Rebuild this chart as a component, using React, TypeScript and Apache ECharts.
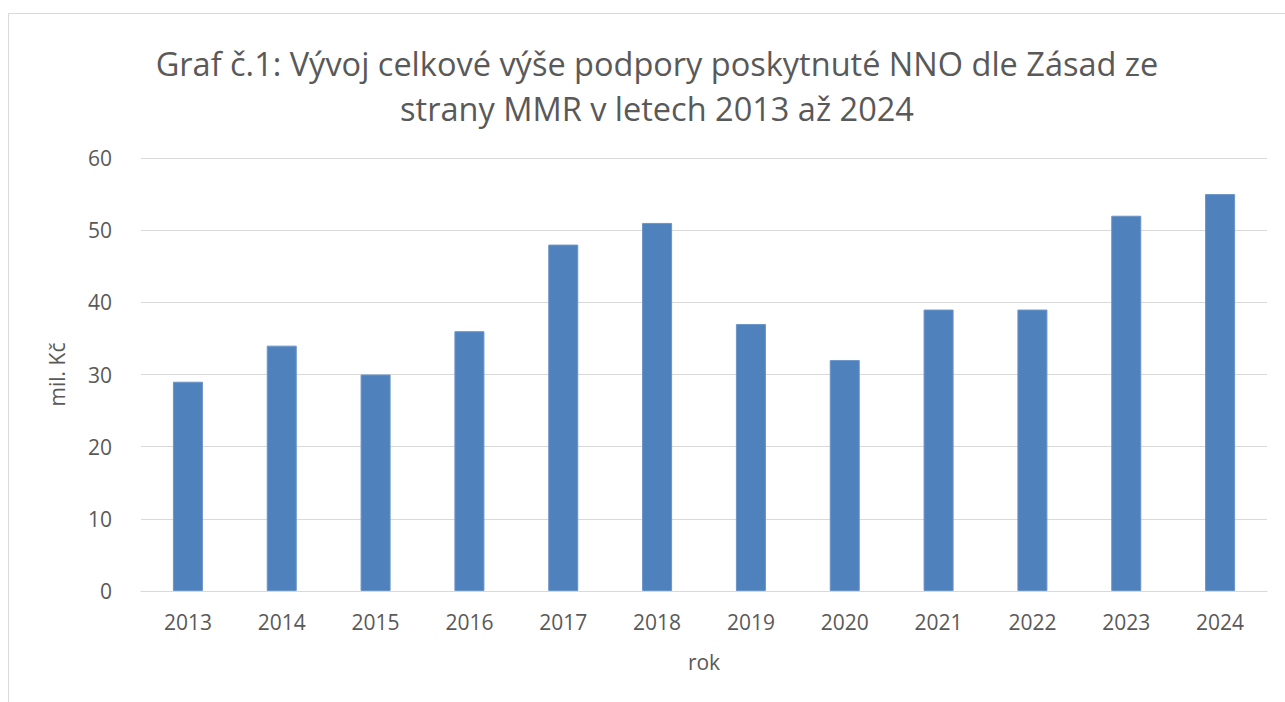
import React, { useEffect, useRef } from "react";
import * as echarts from "echarts";

const years = ["2013", "2014", "2015", "2016", "2017", "2018", "2019", "2020", "2021", "2022", "2023", "2024"];
const values = [29, 34, 30, 36, 48, 51, 37, 32, 39, 39, 52, 55];
const titleText = "Graf č.1: Vývoj celkové výše podpory poskytnuté NNO dle Zásad ze\nstrany MMR v letech 2013 až 2024";
const yAxisName = "mil. Kč";
const xAxisName = "rok";

const FONT = "'Open Sans', 'Noto Sans', sans-serif";
const TEXT = "#595959";

export default function App() {
  const ref = useRef<HTMLDivElement>(null);
  useEffect(() => {
    if (!ref.current) return;
    const chart = echarts.init(ref.current, undefined, { renderer: "svg" });
    chart.setOption({
      animation: false,
      backgroundColor: "#ffffff",
      textStyle: { fontFamily: FONT },
      title: {
        text: titleText,
        left: 652,
        textAlign: "center",
        top: 36,
        textStyle: { fontFamily: FONT, fontSize: 32.5, fontWeight: "normal", color: TEXT, lineHeight: 45 },
      },
      graphic: [
        {
          type: "rect",
          shape: { x: 8.5, y: 13.5, width: 1400, height: 800 },
          style: { fill: "none", stroke: "#d9d9d9", lineWidth: 1 },
          silent: true,
        },
      ],
      grid: { left: 141, right: 18, top: 158, bottom: 111, containLabel: false },
      xAxis: {
        type: "category",
        data: years,
        name: xAxisName,
        nameLocation: "middle",
        nameGap: 60,
        nameTextStyle: { fontFamily: FONT, fontSize: 21, color: TEXT },
        axisLine: { lineStyle: { color: "#d9d9d9", width: 1 } },
        axisTick: { show: false },
        axisLabel: { fontFamily: FONT, fontSize: 21, color: TEXT, margin: 20 },
      },
      yAxis: {
        type: "value",
        min: 0,
        max: 60,
        interval: 10,
        name: yAxisName,
        nameLocation: "middle",
        nameGap: 74,
        nameRotate: 90,
        nameTextStyle: { fontFamily: FONT, fontSize: 21, color: TEXT },
        axisLine: { show: false },
        axisTick: { show: false },
        axisLabel: { fontFamily: FONT, fontSize: 21, color: TEXT, margin: 29 },
        splitLine: { lineStyle: { color: "#d9d9d9", width: 1 } },
      },
      series: [
        {
          type: "bar",
          data: values,
          barWidth: "32%",
          itemStyle: { color: "#4f81bd", borderColor: "#6b95c8", borderWidth: 1 },
        },
      ],
    });
    return () => chart.dispose();
  }, []);
  return <div ref={ref} style={{ position: "fixed", left: 0, top: 0, width: 1285, height: 702 }} />;
}
